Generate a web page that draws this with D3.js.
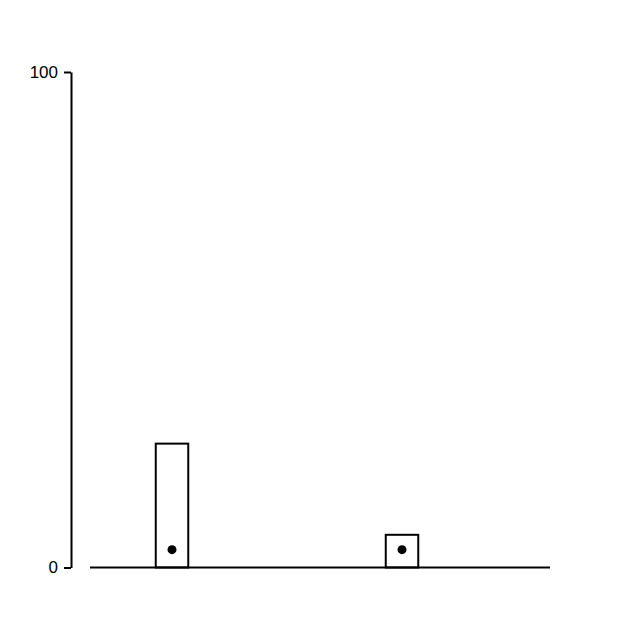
<!DOCTYPE html>
<html><head><meta charset="utf-8">
<script src="https://cdn.jsdelivr.net/npm/d3@7"></script>
<style>body{margin:0;background:#fff}</style>
</head><body>
<svg id="c" width="640" height="640"></svg>
<script>
const categories = ["A", "B"];
const barValues = [25.0, 6.6];
const dotValues = [3.6, 3.6];
const yTicks = [0, 100];

const svg = d3.select("#c");
const y = d3.scaleLinear().domain([0, 100]).range([567.5, 72]);
const x = d3.scaleBand().domain(categories).range([57, 517]).padding(0);
const barW = 32.5;

// baseline
svg.append("line").attr("x1", 90).attr("x2", 550)
  .attr("y1", y(0)).attr("y2", y(0))
  .attr("stroke", "#000").attr("stroke-width", 2);

// y axis
const ax = svg.append("g").attr("transform", "translate(71,0)")
  .call(d3.axisLeft(y).tickValues(yTicks).tickSize(7).tickSizeOuter(0).tickPadding(6));
ax.select(".domain").attr("stroke-width", 2);
ax.selectAll(".tick line").attr("stroke-width", 2);
ax.selectAll("text").attr("font-family", "Liberation Sans, Arial, sans-serif")
  .attr("font-size", 17).attr("fill", "#000");

// bars
svg.selectAll("rect.bar").data(categories).join("rect").attr("class", "bar")
  .attr("x", d => x(d) + x.bandwidth() / 2 - barW / 2)
  .attr("width", barW)
  .attr("y", (d, i) => y(barValues[i]))
  .attr("height", (d, i) => y(0) - y(barValues[i]))
  .attr("fill", "none").attr("stroke", "#000").attr("stroke-width", 2);

// dots
svg.selectAll("circle.dot").data(categories).join("circle").attr("class", "dot")
  .attr("cx", d => x(d) + x.bandwidth() / 2)
  .attr("cy", (d, i) => y(dotValues[i]))
  .attr("r", 4.5).attr("fill", "#000");
</script>
</body></html>
